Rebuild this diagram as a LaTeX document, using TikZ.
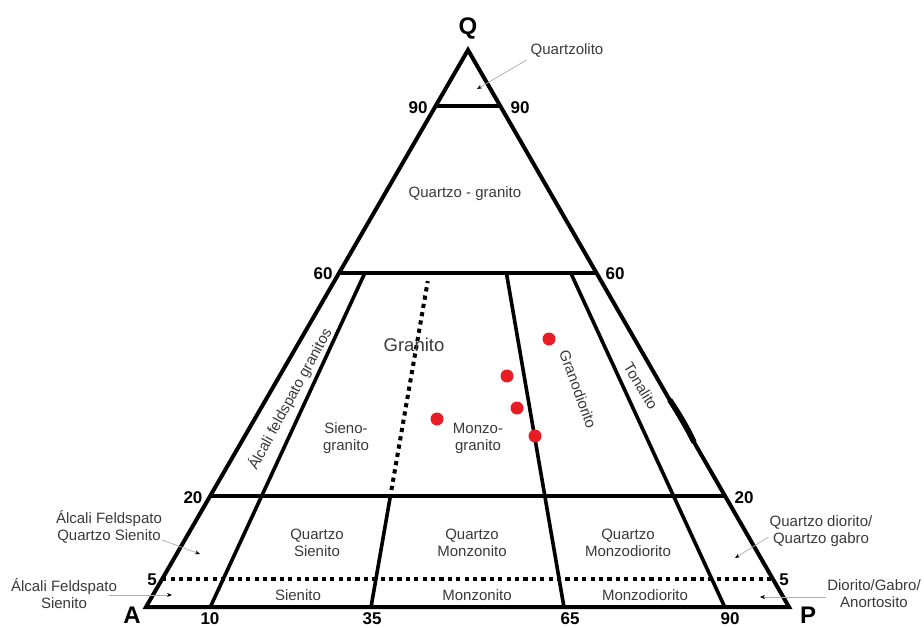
\documentclass[tikz,border=0pt]{standalone}
\usepackage{fontspec}
\setmainfont{Liberation Sans}
\usetikzlibrary{calc,arrows.meta}
\definecolor{dotred}{RGB}{232,28,36}
\definecolor{txt}{RGB}{58,58,58}
\begin{document}
\begin{tikzpicture}[x=1pt,y=-1pt,
  edge/.style={line width=4pt,line join=miter,line cap=butt},
  inner/.style={line width=3.6pt,line cap=butt},
  dots/.style={line width=4pt,dash pattern=on 4.2pt off 4.2pt},
  corner/.style={font=\fontsize{24}{24}\selectfont\bfseries,inner sep=0pt},
  num/.style={font=\fontsize{17}{17}\selectfont\bfseries,inner sep=0pt},
  lab/.style={font=\fontsize{15}{17}\selectfont,text=txt,align=center,inner sep=0pt},
  leader/.style={draw=gray!65,line width=0.7pt,-{Stealth[length=5pt,width=4pt,color=black]}},
  sample/.style={circle,fill=dotred,minimum size=13pt,inner sep=0pt}
]
\useasboundingbox (0,0) rectangle (924,628);
\fill[white] (0,0) rectangle (924,628);

% corners
\coordinate (A) at (146,607);
\coordinate (P) at (789,607);
\coordinate (Q) at (468,50);

% base points
\coordinate (B10) at ($(A)!0.10!(P)$);
\coordinate (B35) at ($(A)!0.35!(P)$);
\coordinate (B65) at ($(A)!0.65!(P)$);
\coordinate (B90) at ($(A)!0.90!(P)$);

% horizontal lines
\draw[edge] ($(A)!0.9!(Q)$) -- ($(P)!0.9!(Q)$);
\draw[edge] ($(A)!0.6!(Q)$) -- ($(P)!0.6!(Q)$);
\draw[edge] ($(A)!0.2!(Q)$) -- ($(P)!0.2!(Q)$);
\draw[dots] ($(A)!0.05!(Q)$) -- ($(P)!0.05!(Q)$);

% radial lines
\draw[inner] (B10) -- ($(B10)!0.6!(Q)$);
\draw[inner] (B35) -- ($(B35)!0.2!(Q)$);
\draw[dots] ($(B35)!0.21!(Q)$) -- ($(B35)!0.585!(Q)$);
\draw[inner] (B65) -- ($(B65)!0.6!(Q)$);
\draw[inner] (B90) -- ($(B90)!0.6!(Q)$);

% outer triangle
\draw[edge] (A) -- (P) -- (Q) -- cycle;
\draw[line width=5.5pt] ($(P)!0.372!(Q)$) .. controls ($(P)!0.345!(Q)+(1.5,0)$) and ($(P)!0.32!(Q)+(1.5,0)$) .. ($(P)!0.296!(Q)$);

% corner letters
\node[corner] (lq) at (468,28) {Q};
\node[corner] (la) at (132,615) {A};
\node[corner] (lp) at (808,615) {P};

% numbers
\node[num] (n90l) at (418,108) {90};
\node[num] (n90r) at (520,108) {90};
\node[num] (n60l) at (323,274) {60};
\node[num] (n60r) at (615,274) {60};
\node[num] (n20l) at (193,498) {20};
\node[num] (n20r) at (744,498) {20};
\node[num] (n5l) at (152,580) {5};
\node[num] (n5r) at (784,580) {5};
\node[num] (n10) at (210,619) {10};
\node[num] (n35) at (372,619) {35};
\node[num] (n65) at (570,619) {65};
\node[num] (n90b) at (730,619) {90};

% field labels
\node[lab] (qgr) at (465,194) {Quartzo - granito};
\node[lab,font=\fontsize{18.5}{20}\selectfont] (gra) at (414,345) {Granito};
\node[lab] (sgr) at (346,438) {Sieno-\\granito};
\node[lab] (mgr) at (478,438) {Monzo-\\granito};
\node[lab,rotate=61.5] (afg) at (290,399) {Álcali feldspato granitos};
\node[lab,rotate=-70] (gdr) at (578,389) {Granodiorito};
\node[lab,rotate=-59] (ton) at (641,386) {Tonalito};
\node[lab] (qsi) at (317,543) {Quartzo\\Sienito};
\node[lab] (qmo) at (472,543) {Quartzo\\Monzonito};
\node[lab] (qmd) at (628,543) {Quartzo\\Monzodiorito};
\node[lab] (sie) at (298,595) {Sienito};
\node[lab] (mon) at (477,595) {Monzonito};
\node[lab] (mzd) at (645,595) {Monzodiorito};

% outside labels with leaders
\node[lab] (qzl) at (567,50) {Quartzolito};
\coordinate (qzlt) at (477,89);
\draw[leader] ([shift={(-4,3)}]qzl.south west) -- (qzlt);

\node[lab] (afqs) at (109,527) {Álcali Feldspato\\Quartzo Sienito};
\coordinate (afqst) at (200,554);
\draw[leader] ([shift={(0,13)}]afqs.east) -- (afqst);

\node[lab] (afs) at (64,594) {Álcali Feldspato\\Sienito};
\coordinate (afst) at (172,595);
\draw[leader] ([shift={(-8,1)}]afs.east) -- (afst);

\node[lab] (qdg) at (821,531) {Quartzo diorito/\\Quartzo gabro};
\coordinate (qdgt) at (735,558);
\draw[leader] ([shift={(-1,6)}]qdg.west) -- (qdgt);

\node[lab] (dga) at (874,594) {Diorito/Gabro/\\Anortosito};
\coordinate (dgat) at (760,597);
\draw[leader] ([shift={(-1,3)}]dga.west) -- (dgat);

% samples
\node[sample] (s1) at (549,339) {};
\node[sample] (s2) at (507,376) {};
\node[sample] (s3) at (517,408) {};
\node[sample] (s4) at (437,419) {};
\node[sample] (s5) at (535,436) {};
\end{tikzpicture}
\end{document}
